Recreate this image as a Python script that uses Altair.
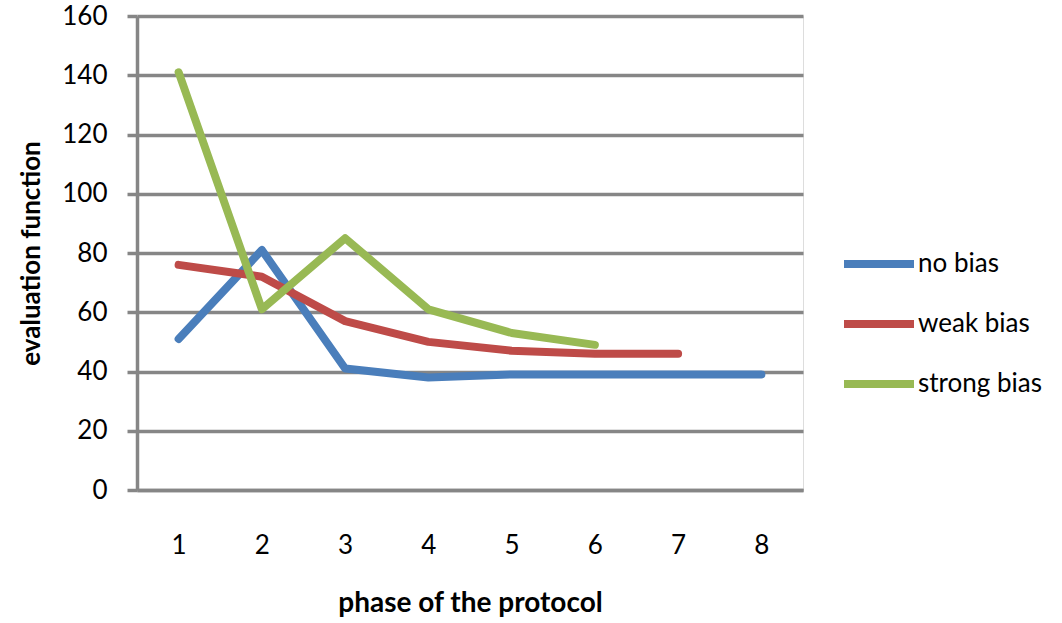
import altair as alt
import pandas as pd

phases = [1, 2, 3, 4, 5, 6, 7, 8]
no_bias = [51, 81, 41, 38, 39, 39, 39, 39]
weak_bias = [76, 72, 57, 50, 47, 46, 46]
strong_bias = [141, 61, 85, 61, 53, 49]
series_names = ["no bias", "weak bias", "strong bias"]
series_colors = ["#4A7EBB", "#BE4B48", "#98B954"]
y_ticks = [0, 20, 40, 60, 80, 100, 120, 140, 160]

rows = []
for name, vals in zip(series_names, [no_bias, weak_bias, strong_bias]):
    for p, v in zip(phases, vals):
        rows.append({"phase": str(p), "value": v, "series": name})
df = pd.DataFrame(rows)

FONT = "Lato"

chart = alt.Chart(df).mark_line(strokeWidth=8, strokeCap="round", strokeJoin="round").encode(
    x=alt.X("phase:N", sort=[str(p) for p in phases],
            scale=alt.Scale(domain=[str(p) for p in phases], paddingInner=0, paddingOuter=0.5),
            axis=alt.Axis(title="phase of the protocol", labelAngle=0, ticks=False, grid=False,
                          domain=True, domainColor="#868686", domainWidth=3.5,
                          labelPadding=42, labelFontSize=26, labelFont=FONT, labelColor="#000",
                          titleFont=FONT, titleFontSize=28, titleFontWeight="bold",
                          titleBaseline="middle", titleY=113, titleColor="#000")),
    y=alt.Y("value:Q", scale=alt.Scale(domain=[0, 160], nice=False),
            axis=alt.Axis(title="evaluation function", values=y_ticks, grid=True,
                          gridColor="#868686", gridWidth=3.5, tickColor="#868686", tickWidth=3.5,
                          tickSize=10, domain=True, domainColor="#868686", domainWidth=3.5,
                          labelPadding=20, labelFontSize=26, labelFont=FONT, labelColor="#000",
                          titleFont=FONT, titleFontSize=26, titleFontWeight="bold",
                          titleX=-106, titleY=237, titleBaseline="middle", titleAngle=-90,
                          titleColor="#000")),
    color=alt.Color("series:N", sort=series_names,
                    scale=alt.Scale(domain=series_names, range=series_colors),
                    legend=alt.Legend(title=None, orient="none", legendX=703, legendY=209,
                                      symbolType="stroke", symbolSize=4900, symbolStrokeWidth=8,
                                      labelFontSize=26, labelFont=FONT, labelColor="#000",
                                      labelOffset=0, rowPadding=5)),
).properties(
    width=666, height=474,
    autosize=alt.AutoSizeParams(type="none"),
    padding={"left": 137, "top": 16, "right": 259, "bottom": 133},
).configure_view(stroke=None).configure(background="white")

chart.save("out.html", embed_options={"renderer": "svg", "actions": False})
